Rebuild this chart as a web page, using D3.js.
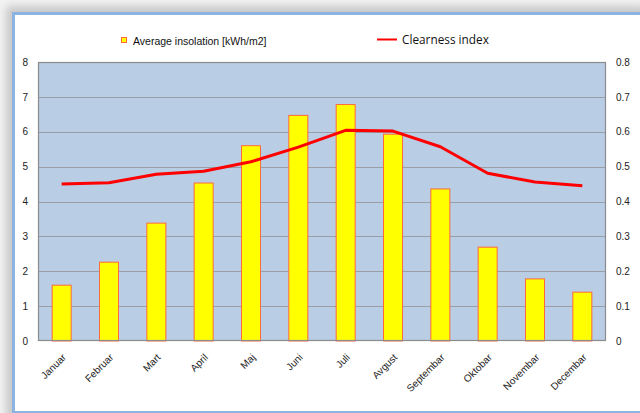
<!DOCTYPE html>
<html>
<head>
<meta charset="utf-8">
<script src="https://cdn.jsdelivr.net/npm/d3@7"></script>
<style>
  html, body { margin: 0; padding: 0; background: #ffffff; }
  svg { display: block; }
</style>
</head>
<body>
<svg id="chart" width="640" height="413"></svg>
<script>
// Monthly solar data
const months = ["Januar", "Februar", "Mart", "April", "Maj", "Juni",
                "Juli", "Avgust", "Septembar", "Oktobar", "Novembar", "Decembar"];
const insolation = [1.60, 2.26, 3.38, 4.53, 5.60, 6.47, 6.78, 5.93, 4.36, 2.69, 1.78, 1.40];
const clearness = [0.450, 0.454, 0.478, 0.487, 0.514, 0.556, 0.604, 0.602, 0.557, 0.481, 0.456, 0.445];
const leftTicks = [0, 1, 2, 3, 4, 5, 6, 7, 8];
const rightTicks = [0, 0.1, 0.2, 0.3, 0.4, 0.5, 0.6, 0.7, 0.8];

const svg = d3.select("#chart");
const W = 640, H = 413;

// window-like frame with soft shadow
const defs = svg.append("defs");
const sh = defs.append("filter").attr("id", "shadow").attr("x", "-5%").attr("y", "-5%").attr("width", "110%").attr("height", "110%");
sh.append("feGaussianBlur").attr("stdDeviation", 4);

svg.append("rect").attr("width", W).attr("height", H).attr("fill", "#f3f3f3");
svg.append("rect").attr("x", 6).attr("y", 6).attr("width", W).attr("height", H)
  .attr("fill", "#c8c8c8").attr("filter", "url(#shadow)");
svg.append("rect").attr("x", 12).attr("y", 12).attr("width", W).attr("height", H - 12)
  .attr("fill", "#8db3e2");
svg.append("rect").attr("x", 15).attr("y", 15).attr("width", W).attr("height", 396)
  .attr("fill", "#ffffff");

const plot = { left: 38, right: 606, top: 62, bottom: 341 };

const xc = d3.scaleBand().domain(months).range([plot.left, plot.right]);
const y = d3.scaleLinear().domain([0, 8]).range([plot.bottom, plot.top]);
const y2 = d3.scaleLinear().domain([0, 0.8]).range([plot.bottom, plot.top]);

// plot background
svg.append("rect")
  .attr("x", plot.left).attr("y", plot.top)
  .attr("width", plot.right - plot.left).attr("height", plot.bottom - plot.top)
  .attr("fill", "#b9cde5");

// gridlines
svg.append("g").selectAll("line").data(leftTicks.slice(1)).join("line")
  .attr("x1", plot.left).attr("x2", plot.right)
  .attr("y1", d => Math.round(y(d)) + 0.5).attr("y2", d => Math.round(y(d)) + 0.5)
  .attr("stroke", "#9a9ea6").attr("stroke-width", 1.2);

// bars
svg.append("g").selectAll("rect").data(months).join("rect")
  .attr("x", d => xc(d) + xc.bandwidth() / 2 - 9.5)
  .attr("width", 19)
  .attr("y", (d, i) => y(insolation[i]))
  .attr("height", (d, i) => plot.bottom - y(insolation[i]))
  .attr("fill", "#ffff00")
  .attr("stroke", "#ff6a3d").attr("stroke-width", 1);

// clearness line
const line = d3.line()
  .x((d, i) => xc(months[i]) + xc.bandwidth() / 2)
  .y(d => y2(d));
svg.append("path").datum(clearness)
  .attr("d", line)
  .attr("fill", "none").attr("stroke", "#ff0000").attr("stroke-width", 3)
  .attr("stroke-linejoin", "round");

// plot frame
svg.append("rect")
  .attr("x", plot.left + 0.5).attr("y", plot.top + 0.5)
  .attr("width", plot.right - plot.left - 1).attr("height", plot.bottom - plot.top - 1)
  .attr("fill", "none").attr("stroke", "#8c8c8c").attr("stroke-width", 1.2);

const tickFont = "'Liberation Sans', Arial, sans-serif";

// left axis
const yAxis = d3.axisLeft(y).tickValues(leftTicks).tickSize(0).tickPadding(10).tickFormat(d3.format("d"));
svg.append("g").attr("transform", `translate(${plot.left},0)`).call(yAxis)
  .call(g => g.select(".domain").remove())
  .call(g => g.selectAll("text").attr("font-family", tickFont).attr("font-size", 10).attr("fill", "#222"));

// right axis
const y2Axis = d3.axisRight(y2).tickValues(rightTicks).tickSize(0).tickPadding(10)
  .tickFormat(d => d === 0 ? "0" : d3.format(".1f")(d));
svg.append("g").attr("transform", `translate(${plot.right},0)`).call(y2Axis)
  .call(g => g.select(".domain").remove())
  .call(g => g.selectAll("text").attr("font-family", tickFont).attr("font-size", 10).attr("fill", "#222"));

// x axis labels, rotated
const xAxis = d3.axisBottom(xc).tickSize(0).tickPadding(0);
svg.append("g").attr("transform", `translate(0,${plot.bottom})`).call(xAxis)
  .call(g => g.select(".domain").remove())
  .call(g => g.selectAll("text")
    .attr("font-family", tickFont).attr("font-size", 10).attr("fill", "#222")
    .attr("text-anchor", "end")
    .attr("dy", 0)
    .attr("transform", "translate(5,17) rotate(-45)"));

// legend
const lg = svg.append("g");
lg.append("rect").attr("x", 121.5).attr("y", 37.5).attr("width", 5).attr("height", 5)
  .attr("fill", "#ffff00").attr("stroke", "#ff6a3d").attr("stroke-width", 1);
lg.append("text").attr("x", 133).attr("y", 44.5)
  .attr("font-family", tickFont).attr("font-size", 10.5).attr("fill", "#111")
  .text("Average insolation [kWh/m2]");
lg.append("line").attr("x1", 377).attr("x2", 397).attr("y1", 39.5).attr("y2", 39.5)
  .attr("stroke", "#ff0000").attr("stroke-width", 2);
lg.append("text").attr("x", 402).attr("y", 44)
  .attr("font-family", "'Open Sans', 'Liberation Sans', sans-serif").attr("font-size", 11.8).attr("fill", "#111")
  .text("Clearness index");
</script>
</body>
</html>
